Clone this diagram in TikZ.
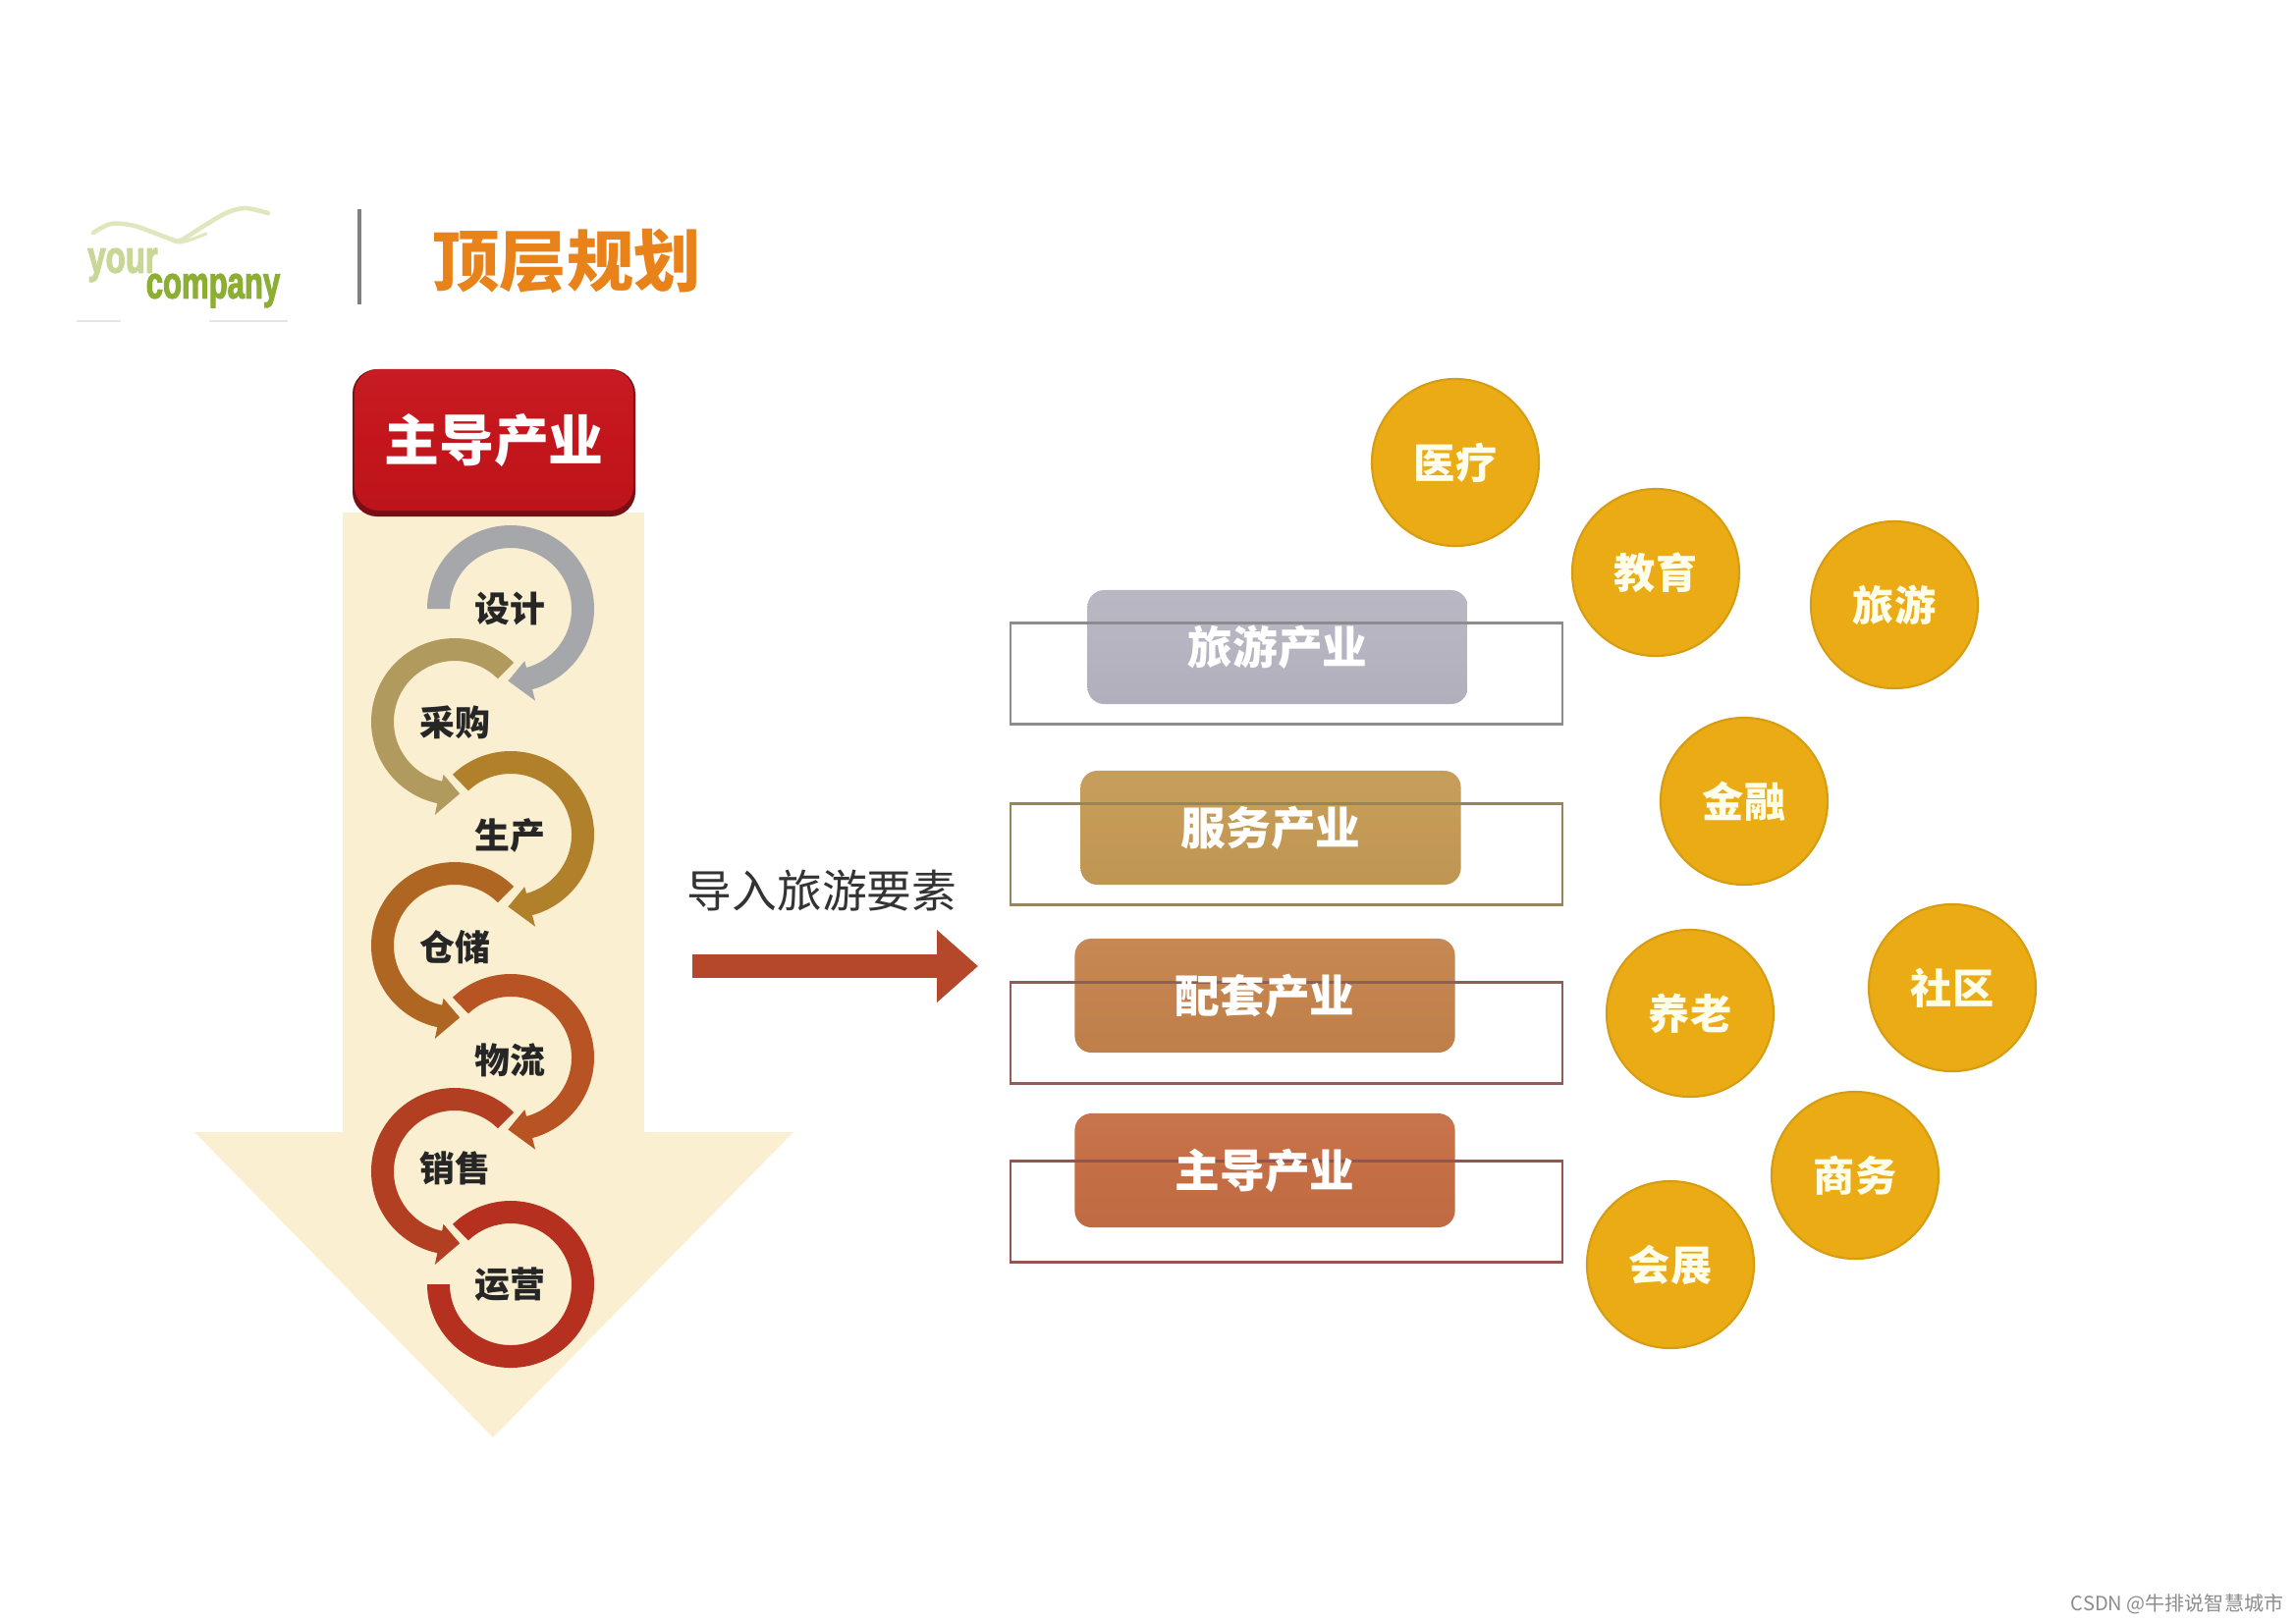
\documentclass[tikz,border=0pt]{standalone}
\usepackage{fontspec}
\usepackage{tikz}
\usetikzlibrary{arrows.meta,calc,positioning}
\newfontfamily\cjk{Noto Sans CJK SC}
\newfontfamily\latin[BoldFeatures={FakeBold=3}]{Liberation Sans}

\definecolor{sandbg}{HTML}{FBEFD2}
\definecolor{goldbub}{HTML}{EAAB14}
\definecolor{ringa}{HTML}{A6A7AA}
\definecolor{ringb}{HTML}{B09A5E}
\definecolor{ringc}{HTML}{B0802A}
\definecolor{ringd}{HTML}{AF6623}
\definecolor{ringe}{HTML}{B85424}
\definecolor{ringf}{HTML}{B23F22}
\definecolor{ringg}{HTML}{B5301F}
\definecolor{swoosh}{HTML}{DEE7BE}
\definecolor{yourgreen}{HTML}{C8D696}
\definecolor{compgreen}{HTML}{8CAE32}
\definecolor{titleorange}{HTML}{E98218}
\definecolor{headred}{HTML}{C4151C}
\definecolor{headdark}{HTML}{7A0E14}
\definecolor{bigarrow}{HTML}{B5482A}
\definecolor{platea}{HTML}{B5B4C0}
\definecolor{plateb}{HTML}{C49A55}
\definecolor{platec}{HTML}{C4834D}
\definecolor{plated}{HTML}{C56E45}
\definecolor{framea}{HTML}{8C8C8C}
\definecolor{frameb}{HTML}{96845A}
\definecolor{framec}{HTML}{8C6058}
\definecolor{framed}{HTML}{96544E}

\tikzset{
  flowtext/.style={font=\cjk\bfseries\fontsize{10.2}{12}\selectfont,text=black!85},
  plate/.style={rectangle,rounded corners=0.17cm,minimum width=3.87cm,minimum height=1.16cm,
    top color=#1!96!white,bottom color=#1!97!black,middle color=#1},
  platetext/.style={font=\cjk\bfseries\fontsize{13}{15}\selectfont,text=white},
  frame/.style={rectangle,draw,line width=0.7pt,minimum width=5.62cm,minimum height=1.03cm},
  bubble/.style={circle,fill=goldbub,draw=goldbub!92!black,line width=0.6pt,minimum size=1.70cm,inner sep=0pt,
    font=\cjk\bfseries\fontsize{12}{14}\selectfont,text=white!92!yellow},
  logotext/.style={font=\latin\bfseries\fontsize{13}{14}\selectfont,inner sep=0pt},
}

% band from angle a to angle b, head tip at angle c
\newcommand{\flowarc}[6]{
  \fill[#6] (#1,#2) ++(#3:85) arc[start angle=#3,end angle=#4,radius=85]
    -- ($(#1,#2)+(#4:97)$) -- ($(#1,#2)+(#5:73.5)$) -- ($(#1,#2)+(#4:55)$)
    -- ($(#1,#2)+(#4:62)$) arc[start angle=#4,end angle=#3,radius=62] -- cycle;
}

\begin{document}
\begin{tikzpicture}[x=0.01cm,y=-0.01cm]
  \useasboundingbox (0,0) rectangle (2338,1653);

  % logo and title
  \draw[line width=1.3pt,swoosh,line cap=round] plot[smooth] coordinates {(95,237) (113,228) (137,230) (170,242) (183,245) (203,233) (230,217) (250,212) (273,217)};
  \draw[line width=0.9pt,swoosh,line cap=round] plot[smooth] coordinates {(167,240) (183,247) (210,238)};
  \node[logotext,text=yourgreen] (your) at (125,270) {\scalebox{.72}[1]{your}};
  \node[logotext,text=compgreen] (company) at (217,296) {\scalebox{.68}[1]{company}};
  \draw[line width=0.5pt,black!10] (78,327)--(123,327);
  \draw[line width=0.5pt,black!10] (213,327)--(293,327);
  \draw[line width=0.9pt,black!50] (366,213)--(366,310);
  \node[font=\cjk\bfseries\fontsize{19.4}{22}\selectfont,text=titleorange] (title) at (577,266) {顶层规划};

  % big downward arrow
  \fill[sandbg] (349,522)--(656,522)--(656,1153)--(808,1153)--(502,1464)--(198,1153)--(349,1153)--cycle;
  \fill[headdark,rounded corners=0.25cm] (359,376) rectangle (647,526);
  \node[rectangle,rounded corners=0.25cm,minimum width=2.84cm,minimum height=1.44cm,
    top color=headred!97!white,bottom color=headred!96!black,middle color=headred,
    font=\cjk\bfseries\fontsize{15.9}{18}\selectfont,text=white] (head) at (503,448) {主导产业};

  % ring arrows
  \flowarc{520}{620}{-180}{75}{92}{ringa}
  \flowarc{463}{735}{-45}{-258}{-274}{ringb}
  \flowarc{520}{850}{-134}{75}{92}{ringc}
  \flowarc{463}{963}{-45}{-258}{-274}{ringd}
  \flowarc{520}{1077}{-134}{75}{92}{ringe}
  \flowarc{463}{1193}{-45}{-258}{-274}{ringf}
  \fill[ringg] (520,1308) ++(-134:85) arc[start angle=-134,end angle=180,radius=85]
    -- ++(23,0) arc[start angle=180,end angle=-134,radius=62] -- cycle;

  \node[flowtext] (sheji) at (519,620) {设计};
  \node[flowtext] (caigou) at (463,736) {采购};
  \node[flowtext] (shengchan) at (519,851) {生产};
  \node[flowtext] (cangchu) at (463,965) {仓储};
  \node[flowtext] (wuliu) at (519,1080) {物流};
  \node[flowtext] (xiaoshou) at (463,1190) {销售};
  \node[flowtext] (yunying) at (519,1308) {运营};

  % middle arrow
  \node[font=\cjk\fontsize{13}{15}\selectfont,text=black!80] (import) at (837,907) {导入旅游要素};
  \coordinate (from) at (705,984);
  \coordinate (to) at (996,984);
  \draw[line width=6.8pt,bigarrow,-{Triangle[length=11.9pt,width=20.2pt]}] (from)--(to);

  % plates
  \node[plate=platea] (pa) at (1301,659) {};
  \node[plate=plateb] (pb) at (1294,843) {};
  \node[plate=platec] (pc) at (1288,1014) {};
  \node[plate=plated] (pd) at (1288,1192) {};

  \node[frame,draw=framea] (fa) at (1310,686) {};
  \node[frame,draw=frameb] (fb) at (1310,870) {};
  \node[frame,draw=framec] (fc) at (1310,1052) {};
  \node[frame,draw=framed] (fd) at (1310,1234) {};

  \node[platetext] (ta) at (pa) {旅游产业};
  \node[platetext] (tb) at (pb) {服务产业};
  \node[platetext] (tc) at (pc) {配套产业};
  \node[platetext] (td) at (pd) {主导产业};

  % bubbles
  \node[bubble] (yiliao) at (1482,471) {医疗};
  \node[bubble] (jiaoyu) at (1686,583) {教育};
  \node[bubble] (lvyou) at (1929,616) {旅游};
  \node[bubble] (jinrong) at (1776,816) {金融};
  \node[bubble] (yanglao) at (1721,1032) {养老};
  \node[bubble] (shequ) at (1988,1006) {社区};
  \node[bubble] (shangwu) at (1889,1197) {商务};
  \node[bubble] (huizhan) at (1701,1288) {会展};

  \node[font=\cjk\fontsize{5.7}{7}\selectfont,text=black!45,inner sep=0pt] (mark) at (2217,1634) {CSDN @牛排说智慧城市};
\end{tikzpicture}
\end{document}
